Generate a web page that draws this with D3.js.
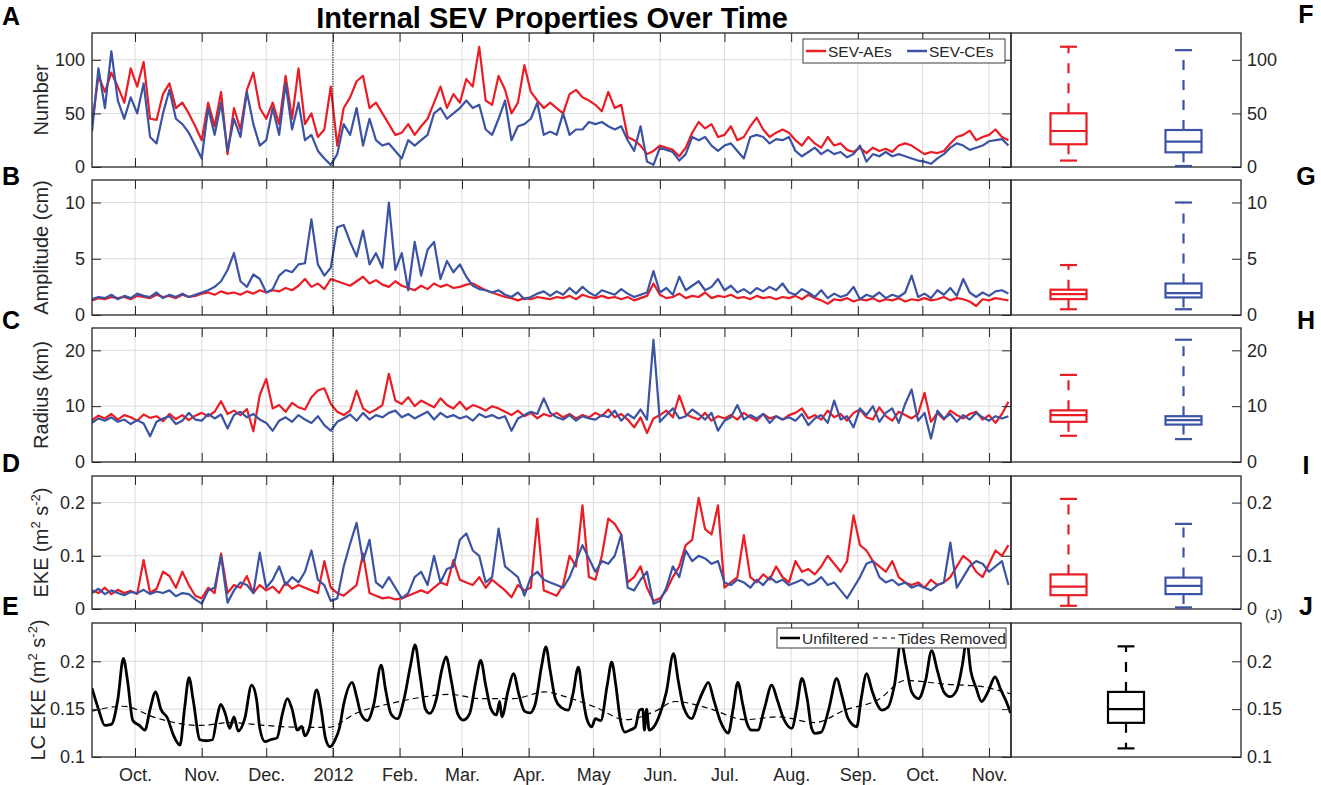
<!DOCTYPE html>
<html><head><meta charset="utf-8">
<script src="https://cdn.jsdelivr.net/npm/d3@7"></script>
<style>
body{margin:0;background:#fff}
svg{display:block}
text{font-family:"Liberation Sans",Arial,Helvetica,sans-serif}
</style>
</head><body>
<svg id="chart" width="1321" height="785"></svg>
<script>
// ---------------- DATA ----------------
const startDate = "2011-09-11";   // first sample
const stepDays = 3;               // sampling interval of panels A-D
const monthLabels = ["Oct.","Nov.","Dec.","2012","Feb.","Mar.","Apr.","May","Jun.","Jul.","Aug.","Sep.","Oct.","Nov."];

const numAEs = [
40,85,70,88,75,60,92,75,98,45,
44,68,78,55,60,50,38,25,60,38,
70,12,55,35,72,88,55,45,60,40,
85,45,92,40,50,28,35,75,20,55,
65,80,85,55,60,50,40,30,32,40,
30,38,45,60,75,55,68,60,82,75,
112,62,58,85,72,50,60,95,70,62,
55,60,55,50,68,72,65,62,58,52,
70,55,58,28,25,20,12,15,20,18,
16,10,18,32,42,36,40,28,30,38,
25,28,38,46,35,28,32,35,32,25,
20,28,22,18,28,20,22,16,14,18,
13,18,15,17,14,20,22,20,16,12,
14,13,15,22,28,30,34,25,28,30,
35,28,25];
const numCEs = [
33,92,55,108,62,45,65,50,78,28,
22,50,72,45,40,32,20,8,55,30,
60,15,45,28,70,40,20,25,55,30,
78,35,60,25,30,15,8,2,12,40,
30,55,20,45,25,20,22,15,8,25,
20,25,30,50,55,45,50,55,62,55,
58,35,30,45,62,25,38,40,45,60,
30,33,30,50,30,35,35,42,40,42,
38,35,38,25,15,38,5,2,18,16,
14,6,12,28,25,28,20,15,20,22,
15,8,28,30,28,22,26,25,28,15,
10,14,18,12,16,12,14,9,12,20,
5,12,10,14,10,12,10,8,6,5,
3,8,12,18,22,20,16,18,20,24,
25,26,20];

const ampAEs = [
1.3,1.5,1.4,1.6,1.5,1.6,1.4,1.7,1.6,1.5,
1.8,1.6,1.7,1.5,1.8,1.6,1.7,1.9,2.0,1.8,
2.1,1.9,2.0,1.8,2.1,1.9,2.2,2.0,2.2,2.1,
2.4,2.2,2.6,3.2,2.5,2.8,2.3,3.2,3.0,2.8,
2.6,3.0,3.4,2.8,3.1,2.7,2.5,3.0,2.6,2.4,
2.2,2.6,2.3,2.8,2.5,2.7,2.4,2.5,2.7,2.8,
2.5,2.2,2.0,1.8,1.6,1.5,1.3,1.5,1.4,1.6,
1.5,1.4,1.6,1.5,1.7,1.4,1.8,1.6,1.5,1.7,
1.5,1.6,1.4,1.6,1.3,1.5,1.7,2.8,1.8,1.5,
1.6,1.9,1.5,1.7,1.6,2.0,1.5,1.7,1.6,1.8,
1.5,1.6,1.4,1.7,1.5,1.6,1.4,1.6,1.5,1.7,
1.4,1.8,1.5,1.3,1.0,1.4,1.3,1.5,1.2,1.4,
1.3,1.5,1.2,1.4,1.3,1.5,1.2,1.4,1.3,1.5,
1.3,1.4,1.6,1.3,1.5,1.4,1.2,0.8,1.4,1.3,
1.5,1.4,1.3];
const ampCEs = [
1.4,1.6,1.5,1.8,1.4,1.7,1.5,1.9,1.7,1.6,
2.0,1.5,1.8,1.6,1.9,1.6,1.8,2.0,2.2,2.5,
3.0,4.0,5.5,3.0,2.5,3.6,3.2,2.0,2.3,3.5,
4.0,3.8,4.5,4.6,8.5,4.5,3.5,4.2,7.8,8.0,
6.5,5.2,7.5,4.5,5.5,4.2,10.0,4.0,5.5,2.2,
6.5,3.5,5.8,6.5,3.2,4.8,3.8,4.5,3.4,2.6,
2.3,2.2,2.0,2.2,1.8,1.6,2.0,1.4,1.6,1.9,
2.1,1.7,2.1,1.8,2.4,1.9,2.5,2.0,1.7,2.2,
2.0,1.8,2.3,1.9,1.6,1.8,2.0,3.9,2.0,2.4,
1.8,3.4,2.2,2.6,3.0,2.2,2.5,3.2,2.2,2.6,
2.0,2.3,1.9,2.4,2.1,2.5,2.2,2.8,2.0,1.8,
2.3,2.0,1.6,2.2,1.5,1.9,1.6,1.8,2.5,1.4,
1.8,1.6,2.0,1.5,1.8,1.6,2.0,3.5,1.6,1.9,
1.5,2.2,1.8,2.4,1.7,3.2,2.0,1.6,2.0,1.7,
2.1,2.2,1.9];

const radAEs = [
7.5,8.3,7.8,8.6,7.6,8.4,8.0,7.4,8.5,7.9,
8.2,7.3,8.6,7.7,8.4,7.5,8.3,8.8,8.2,9.0,
10.9,8.6,9.2,8.4,9.5,5.5,12.0,14.9,9.6,10.2,
9.0,10.6,9.8,9.4,11.6,12.8,13.2,10.4,9.0,8.4,
9.2,12.8,9.6,8.8,9.4,10.2,15.8,11.0,10.4,11.6,
10.0,11.0,10.4,9.8,11.4,10.2,9.6,10.8,9.4,10.2,
9.8,9.2,10.0,9.6,9.0,8.4,9.2,8.2,8.8,7.8,
8.6,8.2,8.8,8.0,8.6,7.8,8.4,8.0,8.8,8.2,
9.4,8.0,8.6,7.6,6.2,8.0,5.2,7.8,8.4,9.2,
8.0,11.9,8.6,8.0,7.6,8.8,7.4,8.2,7.8,8.4,
7.6,8.8,8.0,7.4,8.6,7.8,8.2,7.6,8.4,8.8,
9.6,7.8,8.4,7.6,9.2,8.0,8.6,7.4,8.8,9.4,
8.0,7.6,9.8,8.2,7.4,9.0,8.4,7.8,8.6,12.4,
7.2,8.8,7.6,9.2,8.4,7.8,8.6,9.0,7.6,8.4,
7.0,8.6,10.8];
const radCEs = [
7.0,7.8,7.4,8.0,7.2,7.6,6.8,7.5,6.9,4.6,
7.2,7.8,8.2,6.8,7.4,8.8,7.6,7.4,8.6,7.8,
8.5,6.0,8.4,9.0,8.0,8.6,7.6,7.0,5.6,7.4,
8.0,7.2,8.4,7.6,7.0,8.2,6.6,5.6,7.2,7.8,
8.5,7.4,8.8,7.6,8.4,8.0,8.8,9.2,8.0,8.6,
7.8,8.4,9.0,7.6,8.8,8.0,8.4,7.8,8.2,7.4,
8.6,8.0,8.4,7.8,8.2,5.6,7.8,8.4,9.0,8.6,
11.4,8.8,8.0,7.6,8.4,7.4,8.2,7.8,7.6,8.4,
8.0,9.2,7.4,8.6,7.8,9.4,7.6,21.9,7.2,8.4,
9.6,7.8,8.2,9.4,8.6,7.6,8.8,5.6,7.4,8.0,
10.2,7.6,8.4,7.8,8.6,7.0,8.2,7.6,8.0,7.4,
8.6,6.6,7.8,8.4,7.0,11.0,7.6,8.2,6.2,9.6,
8.4,10.0,7.2,8.8,9.6,7.0,10.4,13.0,7.4,8.8,
4.2,9.2,7.8,8.6,7.2,8.4,7.6,8.8,8.0,7.4,
8.2,7.8,8.2];

const ekeAEs = [
.035,.030,.040,.028,.036,.030,.034,.028,.092,.030,
.038,.070,.062,.040,.070,.045,.025,.020,.040,.030,
.104,.030,.045,.040,.062,.030,.045,.035,.042,.030,
.050,.038,.045,.040,.035,.030,.090,.040,.030,.025,
.035,.045,.104,.030,.025,.020,.022,.018,.020,.025,
.030,.035,.030,.040,.050,.045,.092,.055,.050,.045,
.060,.040,.055,.045,.035,.022,.045,.035,.040,.170,
.035,.030,.025,.045,.100,.080,.195,.060,.055,.100,
.170,.160,.140,.050,.060,.080,.040,.015,.020,.035,
.060,.080,.120,.130,.209,.150,.140,.195,.040,.050,
.060,.139,.060,.050,.065,.055,.080,.060,.050,.090,
.070,.075,.065,.080,.100,.085,.070,.090,.176,.120,
.110,.090,.080,.070,.090,.060,.050,.045,.050,.040,
.055,.045,.050,.060,.080,.100,.090,.070,.060,.085,
.110,.100,.120];
const ekeCEs = [
.030,.038,.028,.035,.030,.026,.032,.030,.036,.028,
.033,.030,.035,.024,.030,.028,.018,.010,.035,.040,
.100,.012,.035,.050,.045,.030,.106,.040,.055,.080,
.045,.060,.050,.070,.110,.055,.045,.015,.020,.080,
.123,.162,.090,.130,.050,.040,.060,.040,.020,.030,
.060,.070,.045,.100,.050,.075,.080,.130,.142,.110,
.100,.050,.060,.151,.080,.070,.060,.025,.060,.070,
.055,.050,.045,.040,.060,.090,.120,.095,.070,.090,
.085,.100,.140,.040,.035,.055,.070,.010,.015,.040,
.080,.060,.110,.090,.100,.095,.085,.090,.050,.045,
.055,.050,.040,.055,.045,.060,.050,.055,.045,.050,
.055,.045,.050,.060,.045,.050,.035,.020,.040,.060,
.085,.090,.060,.050,.055,.045,.050,.040,.045,.040,
.035,.045,.050,.125,.040,.060,.080,.090,.085,.070,
.080,.090,.045];

// Loop Current EKE: [days since start, value]
const lcUnfiltered = [
[0,0.172],[3,0.150],[6,0.133],[9,0.134],[12,0.160],[14.6,0.203],[16.5,0.180],[19,0.138],[22,0.133],[24.6,0.128],
[27,0.150],[29.6,0.168],[32,0.150],[35,0.141],[38,0.122],[40.9,0.1125],[43,0.150],[45.1,0.183],[47,0.160],[50.2,0.118],
[53,0.117],[56,0.118],[58,0.140],[59.8,0.155],[62,0.145],[64,0.130],[66,0.142],[68,0.127],[71,0.140],[74.2,0.175],
[76.5,0.160],[78,0.130],[80.4,0.116],[83,0.118],[86,0.120],[88.5,0.145],[90.8,0.161],[93,0.150],[95.5,0.128],[97.5,0.132],
[99,0.122],[101,0.130],[104.4,0.170],[106.5,0.150],[108.5,0.120],[110.6,0.1107],[113,0.118],[115,0.130],[117,0.155],[121,0.178],
[123,0.163],[125,0.145],[128,0.138],[131,0.155],[134.4,0.196],[136.5,0.170],[139,0.145],[142,0.140],[145,0.160],[148,0.195],
[150.2,0.217],[152.5,0.185],[155,0.150],[157,0.1455],[160,0.160],[162.5,0.190],[164.6,0.2045],[167,0.180],[170,0.145],[172.6,0.1385],
[175.5,0.145],[178.5,0.180],[180.7,0.201],[183,0.175],[185.5,0.150],[188,0.144],[189.5,0.158],[190.5,0.142],[193.5,0.170],[195.9,0.187],
[198.5,0.165],[201,0.148],[203.6,0.146],[206,0.155],[209,0.195],[211,0.215],[213,0.190],[215.5,0.160],[218,0.152],[221.4,0.149],
[223.5,0.165],[226.1,0.194],[228,0.165],[230,0.140],[232.3,0.1316],[234,0.140],[236.5,0.138],[239.5,0.175],[241.6,0.199],[243.5,0.175],
[245.5,0.140],[247.8,0.126],[250,0.128],[252.5,0.131],[254.5,0.149],[256,0.150],[256.8,0.128],[257.8,0.150],[259,0.128],[261,0.131],
[264,0.145],[267,0.168],[270.3,0.208],[272.5,0.180],[275,0.152],[278.8,0.140],[281.5,0.155],[284.3,0.170],[286.5,0.178],[289,0.160],
[292,0.138],[295.8,0.125],[298,0.150],[300.2,0.178],[302.5,0.155],[304.5,0.135],[306.7,0.128],[309.5,0.128],[312.5,0.150],[316,0.175],
[318.5,0.160],[321.5,0.140],[325.3,0.130],[327.5,0.150],[330,0.182],[332.5,0.160],[334.5,0.130],[336.1,0.1247],[339,0.126],[342.5,0.150],
[346.2,0.182],[348.5,0.165],[351.5,0.140],[355.5,0.1316],[357.5,0.160],[360.1,0.187],[362.5,0.170],[365,0.155],[367.1,0.149],[370,0.152],
[373,0.175],[376.1,0.220],[378.5,0.195],[381,0.168],[384.2,0.161],[387.5,0.180],[390.3,0.211],[393,0.190],[396,0.168],[398.9,0.163],
[402,0.170],[404.5,0.195],[406.6,0.222],[408.5,0.190],[411,0.172],[413.5,0.158],[416.5,0.168],[419.8,0.1836],[422.5,0.170],[425,0.158],
[427,0.146]];
const lcTidesRemoved = [
[0,0.148],[14.6,0.153],[29.6,0.141],[50,0.133],[65,0.136],[80,0.133],[97.5,0.131],[110,0.131],[123,0.146],[139,0.156],
[155,0.163],[165.7,0.1655],[181,0.161],[196,0.161],[210.6,0.168],[220,0.163],[234,0.152],[248,0.139],[262,0.148],[271,0.158],
[286.5,0.151],[303.6,0.139],[319,0.142],[336,0.136],[350,0.149],[365.6,0.160],[378,0.180],[397,0.176],[412,0.174],[427,0.166]];

const boxNumAEs = [6, 21.2, 33.6, 50.1, 112.2];
const boxNumCEs = [0.9, 13.7, 23.6, 34.5, 109];
const boxAmpAEs = [0.51, 1.41, 1.86, 2.25, 4.44];
const boxAmpCEs = [0.51, 1.56, 1.95, 2.8, 10.0];
const boxRadAEs = [4.7, 7.2, 8.4, 9.25, 15.6];
const boxRadCEs = [4.1, 6.7, 7.5, 8.2, 21.9];
const boxEkeAEs = [0.006, 0.026, 0.042, 0.065, 0.207];
const boxEkeCEs = [0.003, 0.028, 0.0436, 0.059, 0.160];
const boxLC = [0.109, 0.1357, 0.150, 0.168, 0.2156];

// ---------------- DRAWING ----------------
const RED = "#ec1c24", BLUE = "#3a53a4", INK = "#262626", GRID = "#dcdcdc";
const FONT = '"Liberation Sans", Arial, Helvetica, sans-serif';
const svg = d3.select("#chart");
const xL = 92, xM = 1011, xR = 1241;

const t0 = new Date(startDate + "T00:00:00Z");
const t1 = new Date(t0.getTime() + 427.2 * 864e5);
const x = d3.scaleUtc().domain([t0, t1]).range([xL, xM]);
const dates = numAEs.map((_, i) => d3.utcDay.offset(t0, i * stepDays));
const dayToDate = d => new Date(t0.getTime() + d * 864e5);
const monthTicks = d3.utcMonth.range(new Date(Date.UTC(2011, 9, 1)), new Date(Date.UTC(2012, 10, 2)));
const jan2012 = new Date(Date.UTC(2012, 0, 1));

const panels = [
  {key:"A", top:33, bottom:167, domain:[0,125], ticks:[0,50,100], label:["Number"], lx:48,
   series:[{v:numAEs,c:RED},{v:numCEs,c:BLUE}], boxes:[{s:boxNumAEs,c:RED},{s:boxNumCEs,c:BLUE}]},
  {key:"B", top:180, bottom:315, domain:[0,12], ticks:[0,5,10], label:["Amplitude (cm)"], lx:48,
   series:[{v:ampAEs,c:RED},{v:ampCEs,c:BLUE}], boxes:[{s:boxAmpAEs,c:RED},{s:boxAmpCEs,c:BLUE}]},
  {key:"C", top:328, bottom:462, domain:[0,24], ticks:[0,10,20], label:["Radius (km)"], lx:48,
   series:[{v:radAEs,c:RED},{v:radCEs,c:BLUE}], boxes:[{s:boxRadAEs,c:RED},{s:boxRadCEs,c:BLUE}]},
  {key:"D", top:476, bottom:609, domain:[0,0.25], ticks:[0,0.1,0.2], label:["EKE (m","2"," s","-2",")"], lx:48,
   series:[{v:ekeAEs,c:RED},{v:ekeCEs,c:BLUE}], boxes:[{s:boxEkeAEs,c:RED},{s:boxEkeCEs,c:BLUE}]},
  {key:"E", top:623, bottom:757, domain:[0.1,0.24], ticks:[0.1,0.15,0.2], label:["LC EKE (m","2"," s","-2",")"], lx:45,
   series:[], boxes:[{s:boxLC,c:"#000"}]}
];

function styleAxis(ax, showText) {
  ax.attr("font-size", null).attr("font-family", null);
  ax.select(".domain").remove();
  ax.selectAll("line").attr("stroke", INK).attr("stroke-width", 1);
  ax.selectAll("text").attr("fill", INK).style("font-size", "18px").style("font-family", FONT);
  if (!showText) ax.selectAll("text").remove();
}

panels.forEach((p, pi) => {
  const y = d3.scaleLinear().domain(p.domain).range([p.bottom, p.top]);
  const g = svg.append("g");
  const clipId = "clip" + p.key;
  svg.append("clipPath").attr("id", clipId).append("rect")
    .attr("x", xL).attr("y", p.top).attr("width", xM - xL).attr("height", p.bottom - p.top);

  // grid
  g.append("g").selectAll("line").data(monthTicks).join("line")
    .attr("x1", d => x(d)).attr("x2", d => x(d)).attr("y1", p.top).attr("y2", p.bottom)
    .attr("stroke", GRID).attr("stroke-width", 1);
  g.append("g").selectAll("line").data(p.ticks.filter(t => t !== p.domain[0])).join("line")
    .attr("x1", xL).attr("x2", xM).attr("y1", d => y(d)).attr("y2", d => y(d))
    .attr("stroke", GRID).attr("stroke-width", 1);

  const lines = g.append("g").attr("clip-path", `url(#${clipId})`);
  const line = d3.line().x(d => x(d.t)).y(d => y(d.v));
  p.series.forEach(s => {
    lines.append("path").datum(s.v.map((v, i) => ({t: dates[i], v})))
      .attr("d", line).attr("fill", "none").attr("stroke", s.c)
      .attr("stroke-width", 2.2).attr("stroke-linejoin", "round");
  });
  if (p.key === "E") {
    const lineE = d3.line().x(d => x(dayToDate(d[0]))).y(d => y(d[1])).curve(d3.curveMonotoneX);
    lines.append("path").datum(lcTidesRemoved).attr("d", lineE).attr("fill", "none")
      .attr("stroke", "#000").attr("stroke-width", 1.2).attr("stroke-dasharray", "6,4");
    lines.append("path").datum(lcUnfiltered).attr("d", lineE).attr("fill", "none")
      .attr("stroke", "#000").attr("stroke-width", 2.8).attr("stroke-linejoin", "round");
  }

  // dotted 2012 line
  g.append("line").attr("x1", x(jan2012)).attr("x2", x(jan2012)).attr("y1", p.top).attr("y2", p.bottom)
    .attr("stroke", "#000").attr("stroke-width", 1).attr("stroke-dasharray", "1.2,1.2");

  // frame
  g.append("rect").attr("x", xL).attr("y", p.top).attr("width", xM - xL).attr("height", p.bottom - p.top)
    .attr("fill", "none").attr("stroke", INK).attr("stroke-width", 1.3);

  // axes
  styleAxis(g.append("g").attr("transform", `translate(${xL},0)`)
    .call(d3.axisLeft(y).tickValues(p.ticks).tickSize(-9).tickPadding(7).tickFormat(d => String(d))), true);
  styleAxis(g.append("g").attr("transform", `translate(${xM},0)`)
    .call(d3.axisRight(y).tickValues(p.ticks).tickSize(-9).tickFormat("")), false);
  styleAxis(g.append("g").attr("transform", `translate(0,${p.top})`)
    .call(d3.axisTop(x).tickValues(monthTicks).tickSize(-9).tickFormat("")), false);
  styleAxis(g.append("g").attr("transform", `translate(0,${p.bottom})`)
    .call(d3.axisBottom(x).tickValues(monthTicks).tickSize(-9).tickPadding(11)
      .tickFormat((d, i) => monthLabels[i])), p.key === "E");

  // y label
  const lbl = svg.append("text")
    .attr("transform", `translate(${p.lx},${(p.top + p.bottom) / 2}) rotate(-90)`)
    .attr("text-anchor", "middle").attr("fill", INK).style("font-size", "20px");
  p.label.forEach((part, k) => {
    const ts = lbl.append("tspan").text(part);
    if (k % 2 === 1) ts.attr("dy", -8).style("font-size", "13px");
    else if (k > 0) ts.attr("dy", 8);
  });

  // box panel
  const bx = d3.scaleLinear().domain(p.boxes.length === 2 ? [0.5, 2.5] : [0.5, 1.5]).range([xM, xR]);
  const bg = svg.append("g");
  bg.append("rect").attr("x", xM).attr("y", p.top).attr("width", xR - xM).attr("height", p.bottom - p.top)
    .attr("fill", "none").attr("stroke", INK).attr("stroke-width", 1.3);
  styleAxis(bg.append("g").attr("transform", `translate(${xR},0)`)
    .call(d3.axisRight(y).tickValues(p.ticks).tickSize(-9).tickPadding(6).tickFormat(d => String(d))), true);
  p.boxes.forEach((b, k) => {
    const cx = bx(k + 1), bw = 36, cw = 17;
    const [mn, q1, md, q3, mx] = b.s;
    const s = bg.append("g").attr("stroke", b.c).attr("stroke-width", 2.2).attr("fill", "none");
    s.append("line").attr("x1", cx).attr("x2", cx).attr("y1", y(q3)).attr("y2", y(mx)).attr("stroke-dasharray", "10,10");
    s.append("line").attr("x1", cx).attr("x2", cx).attr("y1", y(q1)).attr("y2", y(mn)).attr("stroke-dasharray", "10,10");
    s.append("line").attr("x1", cx - cw / 2).attr("x2", cx + cw / 2).attr("y1", y(mx)).attr("y2", y(mx));
    s.append("line").attr("x1", cx - cw / 2).attr("x2", cx + cw / 2).attr("y1", y(mn)).attr("y2", y(mn));
    s.append("rect").attr("x", cx - bw / 2).attr("y", y(q3)).attr("width", bw).attr("height", y(q1) - y(q3));
    s.append("line").attr("x1", cx - bw / 2).attr("x2", cx + bw / 2).attr("y1", y(md)).attr("y2", y(md));
  });
});

// legends
function legend(x0, y0, w, h, items) {
  const g = svg.append("g");
  g.append("rect").attr("x", x0).attr("y", y0).attr("width", w).attr("height", h)
    .attr("fill", "#fff").attr("stroke", INK).attr("stroke-width", 0.9);
  items.forEach(it => {
    g.append("line").attr("x1", it.lx).attr("x2", it.lx + it.lw).attr("y1", y0 + h / 2).attr("y2", y0 + h / 2)
      .attr("stroke", it.c).attr("stroke-width", it.sw).attr("stroke-dasharray", it.dash || null);
    g.append("text").attr("x", it.tx).attr("y", y0 + h / 2 + 5.5).attr("fill", INK)
      .style("font-size", "15.5px").text(it.t);
  });
}
legend(803, 39, 202, 24, [
  {lx: 806, lw: 20, c: RED, sw: 2.5, tx: 828, t: "SEV-AEs"},
  {lx: 907, lw: 20, c: BLUE, sw: 2.5, tx: 929, t: "SEV-CEs"}
]);
legend(777, 628, 229, 20, [
  {lx: 780, lw: 20, c: "#000", sw: 2.5, tx: 802, t: "Unfiltered"},
  {lx: 873, lw: 22, c: "#000", sw: 1.2, dash: "5,4", tx: 898, t: "Tides Removed"}
]);

// title & panel letters
svg.append("text").attr("x", 552).attr("y", 28).attr("text-anchor", "middle")
  .style("font-size", "29px").style("font-weight", "bold").attr("fill", "#000")
  .text("Internal SEV Properties Over Time");
const leftLetters = [["A",25],["B",185],["C",329],["D",472],["E",615]];
const rightLetters = [["F",23],["G",185],["H",329],["I",474],["J",615]];
leftLetters.forEach(([t, yy]) => svg.append("text").attr("x", 2).attr("y", yy)
  .style("font-size", "25px").style("font-weight", "bold").attr("fill", "#000").text(t));
rightLetters.forEach(([t, yy]) => svg.append("text").attr("x", 1306).attr("y", yy).attr("text-anchor", "middle")
  .style("font-size", "25px").style("font-weight", "bold").attr("fill", "#000").text(t));
svg.append("text").attr("x", 1265).attr("y", 620).attr("fill", INK).style("font-size", "15px").text("(J)");
</script>
</body></html>
